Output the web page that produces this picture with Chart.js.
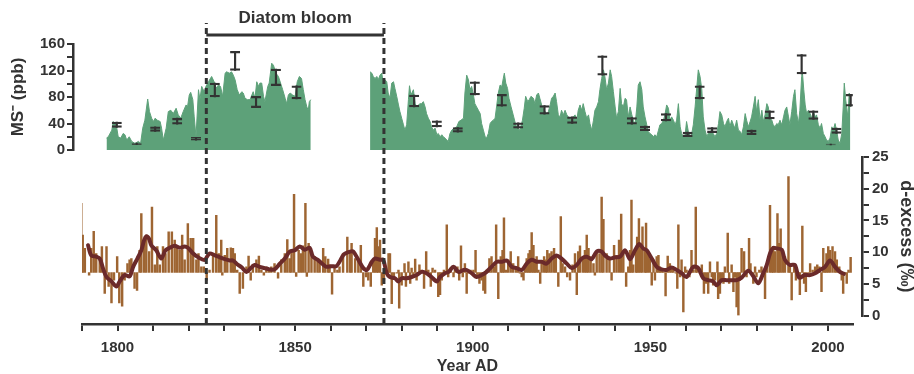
<!DOCTYPE html>
<html>
<head>
<meta charset="utf-8">
<script src="https://cdn.jsdelivr.net/npm/chart.js@4.4.1/dist/chart.umd.min.js"></script>
<style>
  html, body { margin: 0; background: #fff; overflow: hidden; }
  #wrap { position: relative; width: 914px; height: 374px; }
  #wrap canvas { position: absolute; left: 0; top: 0; }
</style>
</head>
<body>
<div id="wrap">
  <canvas id="msChart" width="914" height="374"></canvas>
  <canvas id="dexChart" width="917" height="374"></canvas>
  <canvas id="axisChart" width="914" height="376"></canvas>
</div>
<script>
// MS- record (ppb), two core sections with a gap in between
const msYearsA = [
  1796.9,1797.4,1798.4,1798.8,1799.3,1799.8,1800.2,1800.9,1801.6,1802.1,
  1802.6,1803.3,1804.0,1804.9,1805.9,1806.5,1807.1,1807.7,1808.5,1809.0,
  1809.6,1810.1,1810.6,1811.2,1812.0,1812.4,1812.9,1813.7,1814.3,1815.0,
  1815.7,1816.5,1817.1,1817.8,1818.5,1819.3,1819.7,1820.2,1820.6,1821.2,
  1821.6,1822.1,1822.8,1823.2,1823.7,1824.4,1824.9,1825.6,1826.5,1827.2,
  1827.7,1828.4,1829.0,1829.6,1830.3,1830.7,1831.5,1832.1,1832.6,1833.1,
  1833.7,1834.3,1835.0,1835.4,1835.9,1836.6,1837.3,1838.2,1838.7,1839.2,
  1839.7,1840.1,1840.6,1841.1,1841.5,1842.3,1842.7,1843.4,1843.9,1844.6,
  1845.3,1845.9,1846.5,1847.2,1847.6,1848.1,1848.6,1849.3,1850.0,1850.6,
  1851.2,1851.8,1852.3,1852.8,1853.3,1853.7,1854.0,1854.4
];
const msValuesA = [
  18,20,30,43,40,33,20,18,25,23,
  15,20,13,10,13,10,33,45,77,58,
  48,43,48,45,43,33,15,33,58,60,
  55,63,53,48,58,68,65,83,87,76,
  50,20,91,76,96,88,96,103,111,103,
  93,98,96,81,116,118,116,118,113,106,
  91,83,88,86,78,76,76,88,78,103,
  96,101,101,81,73,96,101,131,128,116,
  111,101,91,78,70,83,86,83,81,103,
  111,108,91,76,65,60,73,76
];
const msGapYear = 1862;
const msYearsB = [
  1871.1,1871.6,1872.0,1872.5,1873.0,1873.4,1873.9,1874.4,1874.8,1875.3,
  1875.8,1876.2,1876.7,1877.2,1877.7,1878.1,1878.6,1879.1,1879.5,1880.0,
  1880.5,1880.9,1881.4,1881.9,1882.2,1882.6,1883.3,1883.8,1884.2,1884.7,
  1885.2,1885.6,1886.1,1886.6,1887.0,1887.5,1888.0,1888.4,1888.9,1889.4,
  1889.9,1890.3,1890.8,1891.3,1891.7,1892.2,1892.7,1893.1,1893.6,1894.1,
  1894.8,1895.5,1896.1,1896.7,1897.4,1897.8,1898.3,1898.8,1899.2,1899.7,
  1900.2,1900.6,1901.1,1901.6,1902.1,1902.5,1903.0,1903.5,1903.9,1904.4,
  1904.9,1905.3,1905.8,1906.3,1906.7,1907.2,1907.7,1908.2,1908.6,1908.9,
  1909.3,1909.8,1910.2,1910.8,1911.4,1912.1,1912.7,1913.3,1914.0,1914.5,
  1914.9,1915.5,1915.9,1916.4,1917.1,1917.5,1918.0,1918.5,1918.9,1919.4,
  1919.9,1920.4,1920.8,1921.3,1921.8,1922.2,1922.7,1923.2,1923.6,1924.1,
  1924.6,1925.0,1925.5,1926.0,1926.5,1926.9,1927.4,1927.9,1928.3,1928.8,
  1929.3,1929.7,1930.2,1930.7,1931.1,1931.6,1932.1,1932.6,1933.0,1933.5,
  1934.0,1934.4,1934.9,1935.4,1935.8,1936.3,1936.8,1937.2,1937.7,1938.2,
  1938.7,1939.1,1939.6,1940.1,1940.5,1941.0,1941.5,1941.9,1942.4,1942.9,
  1943.3,1943.8,1944.3,1944.8,1945.2,1945.7,1946.2,1946.6,1947.1,1947.6,
  1948.0,1948.5,1949.0,1949.4,1949.9,1950.4,1950.9,1951.3,1951.8,1952.3,
  1952.7,1953.2,1953.7,1954.1,1954.6,1955.1,1955.5,1956.0,1956.5,1957.0,
  1957.4,1957.9,1958.4,1958.8,1959.3,1959.8,1960.2,1960.7,1961.2,1961.6,
  1962.1,1962.6,1963.1,1963.5,1964.0,1964.5,1964.9,1965.4,1965.9,1966.3,
  1966.8,1967.3,1967.7,1968.2,1968.7,1969.2,1969.6,1970.1,1970.6,1971.0,
  1971.5,1972.0,1972.4,1972.9,1973.4,1973.8,1974.3,1974.8,1975.3,1975.7,
  1976.2,1976.7,1977.1,1977.6,1978.1,1978.5,1979.0,1979.5,1979.9,1980.4,
  1980.9,1981.4,1981.8,1982.3,1982.8,1983.2,1983.7,1984.2,1984.6,1985.1,
  1985.6,1986.0,1986.5,1987.0,1987.5,1987.9,1988.4,1988.9,1989.3,1989.8,
  1990.3,1990.7,1991.2,1991.7,1992.1,1992.6,1992.8,1993.2,1993.6,1994.0,
  1994.5,1995.0,1995.4,1995.9,1996.4,1996.8,1997.3,1997.8,1998.2,1998.7,
  1999.2,1999.6,2000.1,2000.6,2001.1,2001.5,2002.0,2002.5,2002.9,2003.4,
  2003.9,2004.3,2004.6,2005.0,2005.6,2006.0,2006.3
];
const msValuesB = [
  118,116,111,108,111,106,113,116,101,106,
  103,86,78,101,103,93,81,68,58,48,
  38,30,38,76,97,83,91,70,65,68,
  70,70,73,65,55,48,43,35,30,33,
  23,25,20,23,20,18,15,13,25,30,
  33,35,43,45,48,86,113,106,91,96,
  83,70,65,60,55,40,30,20,18,25,
  40,43,45,48,65,86,98,96,108,116,
  101,93,78,65,53,38,33,30,45,63,
  81,73,76,81,78,70,83,86,78,68,
  63,58,53,58,68,78,81,86,73,53,
  50,60,53,60,53,50,48,45,50,53,
  45,60,68,60,70,58,48,53,40,30,
  45,60,65,73,91,108,121,111,91,101,
  121,111,88,65,48,58,93,70,65,78,
  76,50,65,53,45,38,65,98,103,91,
  65,50,38,28,25,23,20,23,20,30,
  38,40,45,53,68,63,45,50,45,38,
  45,70,35,25,20,23,43,28,20,23,
  38,65,96,121,111,91,50,30,20,25,
  28,30,25,20,25,40,58,53,40,35,
  43,48,35,45,38,33,45,30,28,23,
  35,55,45,35,43,50,65,81,58,76,
  45,60,43,53,70,65,48,45,38,35,
  40,38,45,38,50,60,65,50,38,58,
  81,91,55,40,60,111,118,91,68,55,
  60,55,48,58,50,53,38,33,40,25,
  20,15,13,18,35,30,40,28,15,10,
  25,65,101,76,50,86,65
];

// MS- error bars
const errYears = [1799.8,1805.4,1810.6,1816.8,1822.1,1827.4,1833.1,1839.0,1844.6,1850.4,
  1883.5,1889.9,1895.8,1900.6,1908.2,1912.8,1920.2,1928.0,1936.5,1944.8,
  1948.5,1954.4,1960.5,1963.9,1967.4,1978.5,1983.6,1992.6,1995.9,2000.8,
  2002.4,2006.4];
const errLow = [34,8,28,39,15,80,120,64,97,77,
  65,35,27,83,66,33,54,40,113,39,
  29,44,20,77,26,23,47,115,46,7.5,
  25,66];
const errHigh = [42,10.5,35,48,19,101,149,81,122,97,
  83,44,34,103,84,41,67,50,142,49,
  36,55,27,97,34,30,59,144,59,9,
  33,84];

// d-excess (permil), bars drawn from the long-term mean
const dexBase = 6.8;
const dexYears = [
  1789.8,1790.2,1790.8,1792.0,1792.6,1793.3,1794.0,1795.0,1795.6,1796.4,
  1796.9,1797.5,1798.3,1799.0,1799.9,1800.5,1801.3,1802.0,1802.8,1803.4,
  1803.9,1804.8,1805.5,1806.2,1806.7,1807.5,1808.1,1808.9,1809.7,1810.5,
  1811.2,1811.9,1812.8,1813.5,1814.4,1815.3,1816.1,1816.8,1817.5,1818.2,
  1818.9,1819.8,1820.6,1821.3,1822.2,1822.8,1823.6,1824.3,1825.1,1825.9,
  1826.9,1827.8,1828.5,1829.2,1829.5,1830.2,1830.9,1831.9,1832.5,1833.0,
  1833.7,1834.4,1835.3,1836.3,1836.9,1837.5,1838.1,1839.1,1839.8,1840.5,
  1841.2,1841.9,1842.6,1843.3,1844.2,1845.2,1846.1,1847.1,1847.8,1848.5,
  1849.0,1849.7,1850.3,1851.0,1851.6,1852.2,1852.9,1853.3,1853.8,1854.6,
  1855.5,1856.3,1856.9,1857.9,1858.5,1859.3,1859.7,1860.4,1861.1,1861.9,
  1862.5,1863.5,1864.7,1865.5,1865.9,1866.9,1867.8,1868.5,1869.2,1870.0,
  1870.6,1871.3,1872.0,1872.5,1873.0,1873.4,1873.9,1874.4,1875.0,1876.3,
  1876.7,1877.2,1877.8,1878.6,1879.1,1879.3,1880.0,1880.8,1881.2,1881.9,
  1882.4,1882.8,1883.3,1883.8,1884.2,1885.0,1885.6,1886.3,1886.9,1887.5,
  1888.2,1888.7,1889.4,1890.3,1890.8,1891.3,1891.9,1892.7,1893.1,1893.8,
  1894.6,1895.0,1895.7,1896.2,1896.7,1897.2,1897.8,1898.3,1898.8,1899.4,
  1900.2,1900.8,1901.3,1901.9,1902.5,1903.0,1903.5,1903.9,1904.7,1905.3,
  1906.0,1906.6,1907.2,1907.9,1908.4,1908.8,1909.4,1910.0,1910.7,1911.4,
  1912.2,1912.8,1913.3,1913.8,1914.3,1914.7,1915.2,1915.7,1916.1,1916.6,
  1917.1,1917.5,1918.0,1918.5,1919.0,1919.4,1920.1,1920.6,1921.0,1921.6,
  1922.2,1922.9,1923.4,1924.1,1924.8,1925.3,1926.0,1926.6,1927.4,1928.1,
  1928.8,1929.3,1929.7,1930.2,1931.0,1931.6,1932.1,1932.6,1933.2,1934.0,
  1934.4,1934.9,1935.7,1936.3,1936.8,1937.7,1938.5,1939.1,1939.8,1940.5,
  1941.2,1941.8,1942.4,1943.2,1943.8,1944.3,1944.7,1945.2,1946.0,1946.3,
  1946.8,1947.3,1947.8,1948.5,1948.8,1949.3,1949.9,1950.4,1950.9,1951.3,
  1951.8,1952.3,1952.7,1953.2,1953.7,1954.3,1954.9,1955.5,1956.0,1956.5,
  1957.2,1957.6,1957.9,1958.4,1958.8,1959.3,1959.8,1960.2,1961.0,1961.6,
  1962.1,1962.8,1963.2,1964.0,1964.5,1965.1,1965.7,1966.3,1966.8,1967.3,
  1967.7,1968.2,1968.9,1969.1,1969.6,1970.1,1970.6,1971.0,1971.8,1972.2,
  1972.9,1973.4,1973.8,1974.3,1974.8,1975.2,1975.7,1976.4,1977.1,1977.8,
  1978.2,1979.0,1979.5,1979.9,1980.7,1981.3,1981.8,1982.3,1982.9,1983.7,
  1984.2,1984.6,1985.1,1985.8,1986.2,1986.7,1987.3,1987.9,1988.9,1989.3,
  1989.8,1990.5,1991.0,1991.7,1992.1,1992.8,1993.3,1993.8,1994.5,1995.0,
  1995.7,1996.4,1997.0,1997.6,1998.2,1998.7,1999.2,1999.6,2000.1,2000.6,
  2001.3,2002.0,2002.5,2003.2,2003.9,2004.3,2004.8,2005.3,2005.8,2006.4
];
const dexValues = [
  17.7,12.7,10.6,6.4,10.6,13.3,9.8,9.0,10.9,3.5,
  10.9,4.6,2.0,5.6,9.3,2.0,1.5,5.6,8.2,8.8,
  9.0,4.3,4.0,10.3,16.1,11.6,12.7,10.1,17.1,8.0,
  10.9,8.0,10.9,9.8,13.2,13.2,11.9,10.9,10.3,12.7,
  8.8,14.5,12.2,12.2,8.8,9.8,7.7,7.7,5.6,7.2,
  9.8,15.8,9.8,11.9,6.4,9.5,10.6,10.7,10.6,9.8,
  7.2,3.5,4.3,7.7,9.4,5.6,8.1,8.8,9.4,7.2,
  6.4,7.7,7.2,7.7,8.2,5.9,8.8,9.8,12.0,9.0,
  10.3,19.1,6.2,10.3,9.8,11.0,17.7,6.2,11.4,9.8,
  9.3,8.8,8.3,10.6,9.3,8.9,8.0,3.4,7.7,7.2,
  7.7,9.8,12.4,10.3,11.4,9.0,8.8,11.1,4.6,6.1,
  5.6,4.6,8.8,12.2,13.9,10.9,11.9,4.8,5.6,9.8,
  9.8,1.9,6.1,6.7,7.2,1.2,4.8,8.2,4.6,8.5,
  5.1,7.5,6.1,8.9,5.6,8.0,7.2,4.3,10.1,7.2,
  4.6,7.5,7.2,3.0,3.3,5.6,7.2,14.3,6.1,7.5,
  6.1,7.2,7.7,5.6,11.0,6.1,8.2,3.5,6.7,7.2,
  7.2,10.3,6.1,5.1,5.6,4.0,3.5,7.2,9.0,9.3,
  7.7,14.3,2.7,9.3,10.3,15.4,7.2,8.8,10.1,8.2,
  7.5,9.3,6.7,6.1,5.6,7.7,9.0,9.8,10.3,13.1,
  11.1,8.8,9.3,7.2,5.1,8.2,9.3,8.8,10.3,9.8,
  10.1,10.6,9.3,4.6,15.6,8.2,7.7,6.1,5.6,8.0,
  9.8,3.3,10.1,11.0,9.0,10.3,12.7,10.6,9.3,8.2,
  6.4,10.1,9.8,18.7,15.2,9.8,8.8,5.6,11.1,9.5,
  11.9,16.0,9.8,4.6,7.7,10.3,18.2,8.0,10.3,12.4,
  15.3,10.9,14.0,10.3,14.6,9.8,9.0,4.8,8.8,5.6,
  9.3,9.5,7.7,7.2,6.9,3.1,9.4,8.2,7.7,7.2,
  6.7,4.3,14.3,6.1,8.8,0.6,7.7,7.2,6.1,10.3,
  7.2,17.1,7.7,6.7,8.0,3.5,5.1,3.5,8.5,6.1,
  4.8,5.6,8.5,2.7,3.5,5.6,5.1,7.7,13.0,5.1,
  8.0,3.8,6.1,1.4,0.1,5.6,10.6,10.1,6.1,12.2,
  8.2,5.1,7.7,6.1,7.2,7.7,6.7,2.7,8.2,17.4,
  10.3,10.9,10.1,16.1,11.4,13.7,10.3,9.3,21.9,7.7,
  2.5,8.0,5.6,6.7,3.3,14.1,5.1,3.8,6.7,8.2,
  7.2,7.7,8.0,7.7,3.8,10.6,8.0,9.8,10.9,10.3,
  10.9,10.1,8.8,7.7,5.6,3.5,6.7,5.1,7.2,9.2
];

// smoothed d-excess
const smYears = [
  1791.7,1792.6,1794.0,1795.0,1795.9,1796.9,1798.3,1799.7,1800.6,1802.0,
  1803.4,1804.4,1805.6,1806.7,1807.5,1808.1,1808.8,1809.5,1810.9,1812.3,
  1813.5,1814.7,1816.1,1817.5,1818.9,1819.8,1821.3,1822.7,1824.5,1825.9,
  1827.4,1828.8,1830.2,1831.6,1832.5,1833.7,1835.0,1836.3,1837.5,1838.6,
  1840.0,1841.4,1842.8,1844.2,1845.7,1847.1,1848.5,1849.9,1851.3,1852.7,
  1854.1,1855.0,1856.4,1857.8,1858.8,1860.2,1861.6,1862.5,1863.5,1864.1,
  1865.5,1866.4,1867.8,1869.2,1870.2,1871.6,1872.5,1873.9,1874.8,1875.8,
  1876.7,1878.1,1879.1,1880.0,1881.4,1882.8,1884.2,1885.6,1887.0,1888.4,
  1889.9,1890.8,1892.2,1893.2,1894.6,1896.0,1897.4,1898.3,1899.7,1901.1,
  1902.5,1903.9,1905.3,1906.8,1908.2,1909.6,1911.0,1912.4,1913.8,1915.2,
  1916.6,1918.0,1919.4,1920.8,1922.2,1923.6,1925.0,1926.5,1927.9,1929.3,
  1930.7,1932.1,1933.5,1934.9,1936.3,1937.2,1938.6,1940.1,1941.5,1942.9,
  1944.3,1945.7,1946.9,1948.0,1949.0,1950.4,1951.8,1953.2,1954.6,1956.0,
  1957.4,1958.8,1960.2,1962.1,1963.5,1964.9,1966.3,1967.7,1968.7,1970.1,
  1971.5,1972.9,1974.3,1975.7,1977.6,1979.0,1980.4,1981.8,1982.8,1983.7,
  1984.6,1985.6,1987.0,1987.9,1989.3,1990.7,1991.9,1993.5,1995.0,1996.4,
  1997.8,1999.2,2000.6,2002.0,2003.4,2004.5
];
const smValues = [
  11.1,9.5,9.3,9.0,7.5,6.1,5.4,4.6,5.4,6.4,
  6.2,7.7,9.0,10.3,11.9,12.5,12.2,11.1,10.3,9.0,
  10.3,10.7,11.0,10.7,10.9,10.7,9.8,9.2,8.8,9.8,
  9.5,9.2,8.9,8.7,8.7,8.1,7.6,6.9,7.5,8.0,
  7.7,7.5,7.3,7.3,8.2,9.0,10.1,10.3,10.9,10.4,
  10.7,9.3,8.8,8.1,7.7,7.8,7.8,8.5,9.5,9.8,
  10.1,10.1,8.8,7.5,7.2,8.5,9.0,8.8,8.8,6.7,
  6.1,5.9,5.4,5.9,5.9,6.1,6.4,6.9,6.7,6.1,
  5.4,6.1,6.7,6.9,7.7,6.9,7.2,7.2,6.7,6.1,
  6.4,6.9,7.7,8.5,8.5,8.7,7.7,7.5,7.2,8.2,
  8.8,8.5,8.5,8.2,9.0,9.5,9.0,8.2,7.5,8.0,
  9.0,9.3,8.9,10.1,10.1,9.5,9.0,9.2,9.3,10.3,
  8.9,10.3,11.3,10.6,10.3,9.0,7.7,7.3,7.2,7.6,
  7.2,6.7,6.1,7.7,7.5,5.9,5.6,5.4,4.8,5.6,
  5.6,5.6,5.6,6.0,7.1,6.2,5.1,6.7,8.0,9.8,
  10.7,10.6,10.4,8.8,8.0,8.0,6.0,6.4,6.4,6.7,
  7.2,7.7,8.7,7.7,6.9,6.6
];

// diatom bloom interval and axis text
const bloomYears = [1825, 1875];
const bloomText = 'Diatom bloom';
const xTickYears = [1790,1800,1810,1820,1830,1840,1850,1860,1870,1880,1890,
  1900,1910,1920,1930,1940,1950,1960,1970,1980,1990,2000];
const xLabelYears = [1800, 1850, 1900, 1950, 2000];
const msTicksLabelled = [0, 40, 80, 120, 160];
const dexTicksLabelled = [0, 5, 10, 15, 20, 25];

const FONT = '"Liberation Sans", Arial, sans-serif';
const INK = '#333';
Chart.defaults.font.family = FONT;
Chart.defaults.color = INK;

const zip = (xs, ys) => xs.map((x, i) => ({ x: x, y: ys[i] }));
const msPts = zip(msYearsA, msValuesA)
  .concat([{ x: msGapYear, y: null }])
  .concat(zip(msYearsB, msValuesB));
const errPts = errYears.map((x, i) => ({ x: x, y: [errLow[i], errHigh[i]] }));
const dexPts = dexYears.map((x, i) => ({ x: x, y: [dexBase, dexValues[i]] }));
const smPts = zip(smYears, smValues);

const noPlugins = { legend: { display: false }, tooltip: { enabled: false } };
const near = (v, list) => list.some(t => Math.abs(t - v) < 1e-6);

// top panel: MS-
new Chart(document.getElementById('msChart'), {
  type: 'line',
  data: {
    datasets: [
      {
        type: 'bar', data: errPts, grouped: false, barThickness: 10,
        backgroundColor: 'rgba(0,0,0,0)', borderColor: INK,
        borderWidth: { top: 1.6, bottom: 1.6, left: 0, right: 0 }, borderSkipped: false,
        order: 0
      },
      {
        type: 'bar', data: errPts, grouped: false, barThickness: 1.5,
        backgroundColor: INK, borderWidth: 0, order: 0
      },
      {
        data: msPts, fill: 'origin', backgroundColor: '#5da179',
        borderColor: '#5da179', borderWidth: 1, pointRadius: 0,
        tension: 0, spanGaps: false, order: 1
      }
    ]
  },
  options: {
    responsive: false, animation: false, devicePixelRatio: 1,
    layout: { padding: { left: 0, right: 61.2, top: 44, bottom: 224 } },
    plugins: noPlugins,
    scales: {
      x: { type: 'linear', min: 1787.47, max: 2007, display: false, offset: false },
      y: {
        position: 'left', min: 0, max: 160,
        afterFit(s) { s.width = 73; },
        border: { color: INK, width: 2.5 },
        grid: { drawOnChartArea: false, color: INK, lineWidth: 2, tickLength: 6 },
        ticks: {
          stepSize: 20, autoSkip: false, padding: 2, color: INK,
          font: { size: 15, weight: 'bold' },
          callback: v => near(v, msTicksLabelled) ? Math.round(v) : ''
        },
        title: {
          display: true, text: 'MS⁻ (ppb)', color: INK,
          font: { size: 17, weight: 'bold' }, padding: { top: 8, bottom: 0 }
        }
      }
    }
  }
});

// bottom panel: d-excess
new Chart(document.getElementById('dexChart'), {
  type: 'bar',
  data: {
    datasets: [
      {
        type: 'line', data: smPts, borderColor: '#6b2a2a', borderWidth: 4,
        pointRadius: 0, tension: 0.3, borderJoinStyle: 'round', borderCapStyle: 'round',
        order: 0
      },
      {
        type: 'bar', data: dexPts, grouped: false, barThickness: 1.8,
        backgroundColor: '#9e6532', borderWidth: 0, order: 1
      }
    ]
  },
  options: {
    responsive: false, animation: false, devicePixelRatio: 1,
    layout: { padding: { left: 82, right: 0, top: 157, bottom: 58.3 } },
    plugins: noPlugins,
    scales: {
      x: { type: 'linear', min: 1790, max: 2009.6, display: false, offset: false,
           grid: { offset: false } },
      y: {
        position: 'right', min: 0, max: 25,
        afterFit(s) { s.width = 55; },
        border: { color: INK, width: 2.5 },
        grid: { drawOnChartArea: false, color: INK, lineWidth: 2, tickLength: 7 },
        ticks: {
          stepSize: 2.5, autoSkip: false, padding: 3, color: INK,
          font: { size: 15, weight: 'bold' },
          callback: v => near(v, dexTicksLabelled) ? Math.round(v) : ''
        },
        title: {
          display: true, text: 'd-excess (‰)', color: INK,
          font: { size: 18, weight: 'bold' }, padding: { top: 0, bottom: 0 }
        }
      }
    }
  }
});

// shared year axis, bloom markers and label
const bloomLabel = {
  id: 'bloomLabel',
  afterDatasetsDraw(chart) {
    const { ctx, scales: { x, y } } = chart;
    ctx.save();
    ctx.font = 'bold 17px ' + FONT;
    ctx.fillStyle = INK;
    ctx.textAlign = 'center';
    ctx.textBaseline = 'middle';
    ctx.fillText(bloomText, x.getPixelForValue((bloomYears[0] + bloomYears[1]) / 2), y.getPixelForValue(1.015));
    ctx.restore();
  }
};

const dashed = yr => ({
  data: [{ x: yr, y: 0 }, { x: yr, y: 1 }], borderColor: INK, borderWidth: 3,
  borderDash: [6, 4], pointRadius: 0, clip: false
});

new Chart(document.getElementById('axisChart'), {
  type: 'line',
  data: {
    datasets: [
      dashed(bloomYears[0]),
      dashed(bloomYears[1]),
      {
        data: [{ x: bloomYears[0], y: 0.96 }, { x: bloomYears[1], y: 0.96 }],
        borderColor: INK, borderWidth: 3, pointRadius: 0, clip: false
      }
    ]
  },
  options: {
    responsive: false, animation: false, devicePixelRatio: 1,
    layout: { padding: { left: 82, right: 61.2, top: 23, bottom: 0 } },
    plugins: noPlugins,
    scales: {
      x: {
        type: 'linear', min: 1790, max: 2007, position: 'bottom', offset: false,
        afterFit(s) { s.height = 52; },
        afterBuildTicks(s) { s.ticks = xTickYears.map(v => ({ value: v })); },
        border: { color: INK, width: 2.5 },
        grid: { drawOnChartArea: false, color: INK, lineWidth: 2, tickLength: 7 },
        ticks: {
          autoSkip: false, maxRotation: 0, padding: 8, color: INK,
          font: { size: 15, weight: 'bold' },
          callback: v => near(v, xLabelYears) ? Math.round(v) : ''
        },
        title: {
          display: true, text: 'Year AD', color: INK,
          font: { size: 16, weight: 'bold' }, padding: { top: 0, bottom: 0 }
        }
      },
      y: { min: 0, max: 1, display: false }
    }
  },
  plugins: [bloomLabel]
});
</script>
</body>
</html>
